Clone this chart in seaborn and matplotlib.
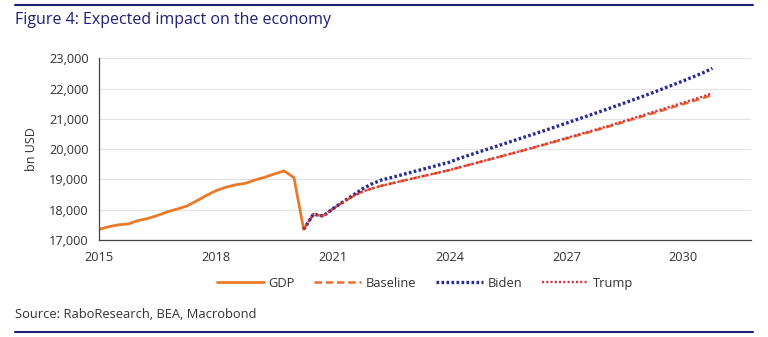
import matplotlib
matplotlib.use("Agg")
import matplotlib.pyplot as plt
import seaborn as sns
import pandas as pd
import numpy as np

# ---- data (bn USD, quarterly) ----
gdp_start = 2015.0
gdp = [17350, 17440, 17500, 17530, 17640, 17710, 17810, 17930, 18020, 18120,
       18290, 18470, 18630, 18740, 18820, 18870, 18980, 19070, 19180, 19280,
       19060, 17350]

fc_start = 2020.25
baseline = [17350, 17850, 17790, 18030, 18240, 18430, 18590, 18700,
            18790, 18865, 18940, 19015, 19090, 19160, 19235, 19310,
            19395, 19480, 19565, 19650, 19735, 19820, 19905, 19990,
            20080, 20170, 20260, 20350, 20440, 20530, 20620, 20710,
            20807, 20904, 21001, 21098, 21195, 21292, 21389, 21486,
            21583, 21680, 21790]
biden = [17350, 17850, 17790, 18030, 18250, 18460, 18680, 18850,
         18980, 19060, 19145, 19230, 19315, 19400, 19485, 19570,
         19695, 19800, 19905, 20010, 20115, 20220, 20325, 20430,
         20535, 20640, 20750, 20860, 20970, 21080, 21190, 21300,
         21415, 21530, 21645, 21760, 21880, 22005, 22130, 22255,
         22385, 22515, 22670]
trump = [17350, 17850, 17790, 18030, 18240, 18430, 18590, 18700,
         18790, 18865, 18940, 19015, 19090, 19160, 19235, 19310,
         19397, 19483, 19569, 19655, 19741, 19827, 19913, 20000,
         20092, 20184, 20276, 20368, 20460, 20552, 20644, 20736,
         20836, 20936, 21036, 21136, 21236, 21336, 21436, 21536,
         21636, 21736, 21850]

xticks = [2015, 2018, 2021, 2024, 2027, 2030]
yticks = [17000, 18000, 19000, 20000, 21000, 22000, 23000]

title = "Figure 4: Expected impact on the economy"
source = "Source: RaboResearch, BEA, Macrobond"

# ---- build frames ----
gdp_df = pd.DataFrame({"x": gdp_start + 0.25 * np.arange(len(gdp)), "y": gdp})
q = fc_start + 0.25 * np.arange(len(baseline))
base_df = pd.DataFrame({"x": q, "y": baseline})
biden_df = pd.DataFrame({"x": q, "y": biden})
trump_df = pd.DataFrame({"x": q, "y": trump})

sns.set_style("white")
plt.rcParams["font.family"] = ["Open Sans", "DejaVu Sans"]

navy = "#1f1f78"
orange = "#ea7a2a"
base_col = "#ea6e34"
biden_col = "#2a2a95"
trump_col = "#d63441"

fig = plt.figure(figsize=(7.68, 3.37), dpi=100)
ax = fig.add_axes([0.1293, 0.288, 0.849, 0.539])

sns.lineplot(data=gdp_df, x="x", y="y", ax=ax, color=orange, lw=2.0, label="GDP")
sns.lineplot(data=base_df, x="x", y="y", ax=ax, color=base_col, lw=1.8,
             label="Baseline", linestyle=(0, (3, 1.5)))
sns.lineplot(data=biden_df, x="x", y="y", ax=ax, color=biden_col, lw=2.4,
             label="Biden", linestyle=(0, (0.8, 0.7)))
sns.lineplot(data=trump_df, x="x", y="y", ax=ax, color=trump_col, lw=1.7,
             label="Trump", linestyle=(0, (0.9, 0.9)))

ax.set_xlim(2015, 2031.75)
ax.set_ylim(17000, 23000)
ax.set_xticks(xticks)
ax.set_xticklabels([str(t) for t in xticks])
ax.set_yticks(yticks)
ax.set_yticklabels([f"{t:,}" for t in yticks])
ax.set_xlabel("")
ax.set_ylabel("bn USD", fontsize=9, color="#333333", labelpad=8)
ax.tick_params(axis="both", labelsize=9.2, colors="#333333", length=4,
               width=0.8, direction="out")
ax.tick_params(axis="x", pad=4)
ax.grid(axis="y", color="#e4e4e4", lw=0.8)
ax.set_axisbelow(True)
for s in ["top", "right"]:
    ax.spines[s].set_visible(False)
for s in ["left", "bottom"]:
    ax.spines[s].set_color("#444444")
    ax.spines[s].set_linewidth(0.9)

leg = ax.legend(loc="upper center", bbox_to_anchor=(0.50, -0.14), ncol=4,
                frameon=False, fontsize=9.3, handlelength=3.6,
                columnspacing=1.5, handletextpad=0.4)
for t in leg.get_texts():
    t.set_color("#333333")

fig.text(0.0195, 0.94, title, fontsize=11.5, color=navy, va="center", ha="left")
fig.text(0.0195, 0.068, source, fontsize=9.3, color="#333333", va="center", ha="left")
fig.add_artist(plt.Line2D([0.0195, 0.98], [0.985, 0.985], color=navy, lw=1.5,
                          transform=fig.transFigure))
fig.add_artist(plt.Line2D([0.0195, 0.98], [0.014, 0.014], color=navy, lw=1.5,
                          transform=fig.transFigure))

fig.savefig("out.png", dpi=100)
